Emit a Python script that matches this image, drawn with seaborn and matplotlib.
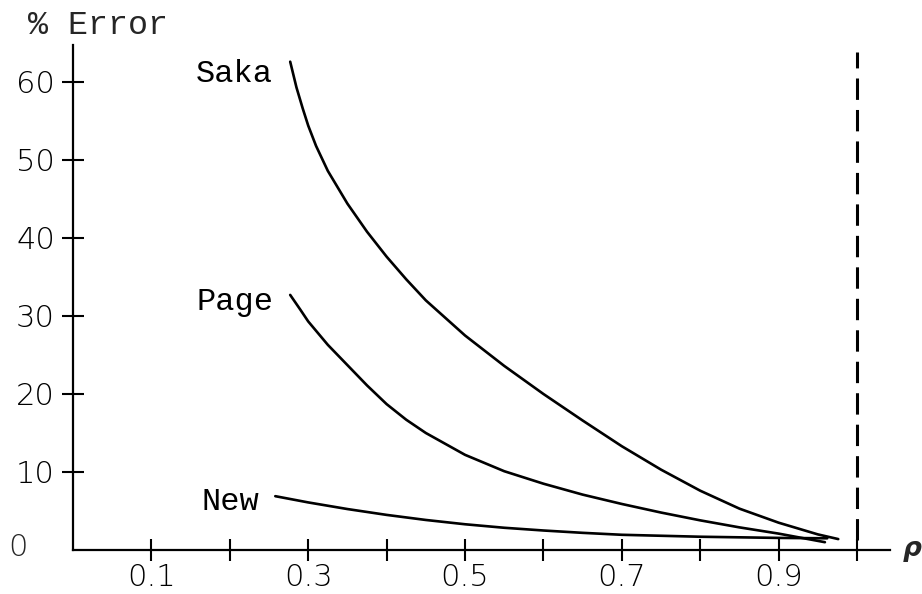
import matplotlib
matplotlib.use("Agg")
import matplotlib.pyplot as plt
import numpy as np
import pandas as pd
import seaborn as sns

# values
saka_rho = [0.277, 0.285, 0.293, 0.30, 0.31, 0.325, 0.35, 0.375, 0.40, 0.425, 0.45, 0.50,
            0.55, 0.60, 0.65, 0.70, 0.75, 0.80, 0.85, 0.90, 0.95, 0.976]
saka_err = [62.6, 59.3, 56.6, 54.4, 51.8, 48.6, 44.4, 40.8, 37.6, 34.7, 32.0, 27.5,
            23.6, 20.0, 16.6, 13.3, 10.3, 7.6, 5.3, 3.5, 2.0, 1.4]

page_rho = [0.277, 0.29, 0.30, 0.325, 0.35, 0.375, 0.40, 0.425, 0.45, 0.50, 0.55, 0.60,
            0.65, 0.70, 0.75, 0.80, 0.85, 0.90, 0.959]
page_err = [32.7, 30.8, 29.3, 26.3, 23.7, 21.1, 18.7, 16.7, 15.0, 12.2, 10.1, 8.5,
            7.1, 5.9, 4.8, 3.8, 2.9, 2.1, 1.0]

new_rho = [0.258, 0.30, 0.35, 0.40, 0.45, 0.50, 0.55, 0.60, 0.65, 0.70, 0.80, 0.90, 0.962]
new_err = [6.9, 6.1, 5.25, 4.5, 3.85, 3.3, 2.85, 2.5, 2.2, 1.95, 1.7, 1.55, 1.5]

curve_names = ["Saka", "Page", "New"]
label_pos = {"Saka": (0.156, 61.0), "Page": (0.158, 31.8), "New": (0.164, 6.2)}

xticks = [0.1, 0.2, 0.3, 0.4, 0.5, 0.6, 0.7, 0.8, 0.9, 1.0]
xticklabels = ["0.1", "", "0.3", "", "0.5", "", "0.7", "", "0.9", ""]
yticks = [10, 20, 30, 40, 50, 60]

df = pd.concat([
    pd.DataFrame({"rho": saka_rho, "err": saka_err, "method": "Saka"}),
    pd.DataFrame({"rho": page_rho, "err": page_err, "method": "Page"}),
    pd.DataFrame({"rho": new_rho, "err": new_err, "method": "New"}),
])

sns.set_style("ticks")
plt.rcParams['font.family'] = ['DejaVu Sans']

mono = 'Liberation Mono'

fig = plt.figure(figsize=(9.22, 5.94), dpi=100)
ax = fig.add_axes([73 / 922, 44 / 594, 817 / 922, 504.7 / 594])

sns.lineplot(data=df, x="rho", y="err", hue="method", hue_order=curve_names,
             palette=["black"] * 3, linewidth=1.9, legend=False, ax=ax, sort=False)
for ln in ax.get_lines():
    ln.set_solid_joinstyle('round')
    ln.set_solid_capstyle('round')

# vertical asymptote at rho = 1
ax.plot([1.0, 1.0], [1.3, 63.8], color='black', lw=2.2, dashes=(7, 3.3), solid_capstyle='butt')

for name in curve_names:
    x, y = label_pos[name]
    ax.text(x, y, name, fontsize=23, family=mono, ha='left', va='center', color='black')

ax.set_xlim(0, 1.042)
ax.set_ylim(0, 64.7)
ax.set_xticks(xticks)
ax.set_xticklabels(xticklabels)
ax.set_yticks(yticks)
ax.set_xlabel("")
ax.set_ylabel("")

for s in ['top', 'right']:
    ax.spines[s].set_visible(False)
for s in ['left', 'bottom']:
    ax.spines[s].set_linewidth(1.6)
    ax.spines[s].set_color('black')

ax.tick_params(axis='both', direction='inout', length=16, width=1.5, colors='black', labelsize=22)
ax.tick_params(axis='y', pad=5)
ax.tick_params(axis='x', pad=1)
for lab in ax.get_xticklabels() + ax.get_yticklabels():
    lab.set_fontweight('light')

ax.annotate("0", xy=(0, 0), xytext=(-55, 2), textcoords='offset pixels',
            ha='center', va='center', fontsize=22, fontweight='light', annotation_clip=False)

fig.text(28 / 922, 1 - 25 / 594, "% Error", fontsize=24, family=mono, ha='left', va='center')
fig.text(912 / 922, 1 - 549 / 594, "ρ", fontsize=19, fontweight='bold', style='italic',
         ha='center', va='center')

fig.savefig("out.png", dpi=100)
